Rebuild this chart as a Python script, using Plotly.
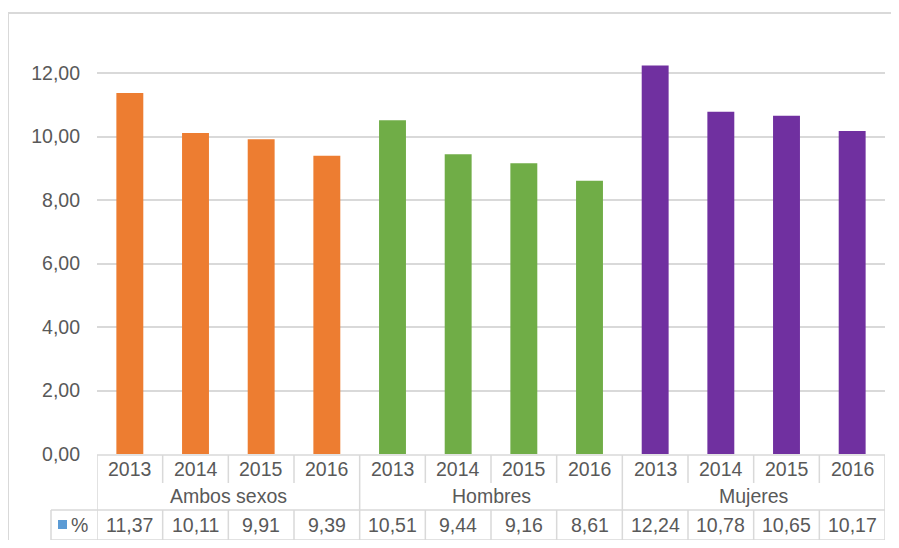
import plotly.graph_objects as go

groups = ["Ambos sexos", "Hombres", "Mujeres"]
years = ["2013", "2014", "2015", "2016"]
ambos = [11.37, 10.11, 9.91, 9.39]
hombres = [10.51, 9.44, 9.16, 8.61]
mujeres = [12.24, 10.78, 10.65, 10.17]
series = [ambos, hombres, mujeres]
colors = ["#ED7D31", "#70AD47", "#7030A0"]
y_ticks = [0, 2, 4, 6, 8, 10, 12]
legend_label = "%"

OFF = 8  # page body margin offset
W, H = 899 - 2 * OFF, 548 - 2 * OFF
L, R, T, B = 97 - OFF, 885 - OFF, 40 - OFF, 454 - OFF
pw, ph = R - L, B - T

def px_x(p):
    return (p - OFF - L) / pw

def px_y(p):
    return (B - (p - OFF)) / ph

FONT = "Liberation Sans, Arial, sans-serif"
TXT = "#595959"
GRID = "#D9D9D9"
FS = 19.5

fig = go.Figure()
shapes = []
annotations = []

idx = 0
for g, vals, col in zip(groups, series, colors):
    xs = list(range(idx, idx + len(vals)))
    fig.add_trace(go.Bar(x=xs, y=vals, marker_color=col, marker_line_width=0,
                         width=0.41, showlegend=False, hoverinfo="skip"))
    idx += len(vals)

n = idx
line = dict(color=GRID, width=1.5)
y0 = px_y(455)
y1 = px_y(483)
y2 = px_y(510)
y3 = px_y(540)
shapes.append(dict(type="line", xref="x", yref="paper", x0=-0.5, x1=n - 0.5, y0=y0, y1=y0, line=line))
shapes.append(dict(type="line", xref="paper", yref="paper", x0=px_x(51), x1=1, y0=y2, y1=y2, line=line))
shapes.append(dict(type="line", xref="paper", yref="paper", x0=px_x(51), x1=1, y0=y3, y1=y3, line=line))
for k in range(n + 1):
    xb = k - 0.5
    if k % 4 == 0:
        shapes.append(dict(type="line", xref="x", yref="paper", x0=xb, x1=xb, y0=y0, y1=y3, line=line))
    else:
        shapes.append(dict(type="line", xref="x", yref="paper", x0=xb, x1=xb, y0=y0, y1=y1, line=line))
        shapes.append(dict(type="line", xref="x", yref="paper", x0=xb, x1=xb, y0=y2, y1=y3, line=line))
shapes.append(dict(type="line", xref="paper", yref="paper", x0=px_x(51), x1=px_x(51), y0=y2, y1=y3, line=line))

# chart outer border
shapes.append(dict(type="line", xref="paper", yref="paper", x0=px_x(8), x1=px_x(905), y0=px_y(13), y1=px_y(13),
                   line=dict(color=GRID, width=2)))
shapes.append(dict(type="line", xref="paper", yref="paper", x0=px_x(8), x1=px_x(8), y0=px_y(13), y1=px_y(560),
                   line=dict(color=GRID, width=2)))

# legend key square in table
shapes.append(dict(type="rect", xref="paper", yref="paper", x0=px_x(58), x1=px_x(67), y0=px_y(529), y1=px_y(520),
                   fillcolor="#5B9BD5", line=dict(width=0)))
annotations.append(dict(xref="paper", yref="paper", x=px_x(69), y=px_y(525), text=legend_label, showarrow=False,
                        xanchor="left", yanchor="middle", font=dict(size=FS, color=TXT, family=FONT)))

k = 0
for gi, (g, vals) in enumerate(zip(groups, series)):
    for yi, (yr, v) in enumerate(zip(years, vals)):
        annotations.append(dict(xref="x", yref="paper", x=k, y=px_y(469), text=yr, showarrow=False,
                                yanchor="middle", font=dict(size=FS, color=TXT, family=FONT)))
        annotations.append(dict(xref="x", yref="paper", x=k, y=px_y(525), text=f"{v:.2f}".replace(".", ","),
                                showarrow=False, yanchor="middle", font=dict(size=FS, color=TXT, family=FONT)))
        k += 1
    annotations.append(dict(xref="x", yref="paper", x=gi * 4 + 1.5, y=px_y(496), text=g, showarrow=False,
                            yanchor="middle", font=dict(size=FS, color=TXT, family=FONT)))

ymax = (B - T) / 31.75

fig.update_layout(
    width=W, height=H,
    margin=dict(l=L, r=W - R, t=T, b=H - B, pad=0),
    paper_bgcolor="white", plot_bgcolor="white",
    separators=",.",
    bargap=0.59,
    xaxis=dict(range=[-0.5, n - 0.5], showticklabels=False, showgrid=False, zeroline=False, showline=False,
               fixedrange=True),
    yaxis=dict(range=[0, ymax], tickvals=y_ticks, tickformat=".2f", showgrid=True, gridcolor=GRID, gridwidth=1.5,
               zeroline=False, showline=False, ticks="", ticklabelstandoff=16,
               tickfont=dict(size=FS, color=TXT, family=FONT)),
    shapes=shapes,
    annotations=annotations,
)

fig.write_html("out.html")
